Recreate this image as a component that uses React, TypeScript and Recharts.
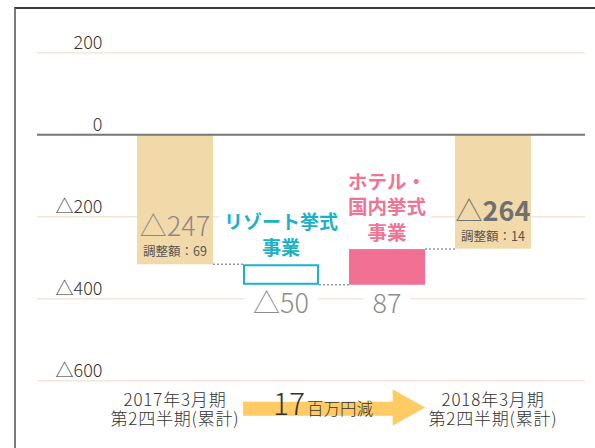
import React from 'react';
import { ComposedChart, Bar, XAxis, YAxis, CartesianGrid, ReferenceLine } from 'recharts';

// ---- data ----
const categories = ['2017年3月期|第2四半期(累計)', 'リゾート挙式|事業', 'ホテル・|国内挙式|事業', '2018年3月期|第2四半期(累計)'];
const kinds = ['total', 'change', 'change', 'total'];
const totals = [-247, null, null, -264];
const adjustments = [69, null, null, 14];
const changes = [null, -50, 87, null];
const yTicks = [200, 0, -200, -400, -600];
const differenceValue = 17;
const differenceUnit = '百万円減';
const adjustmentLabel = '調整額';

// ---- styles ----
const FONT = "'Noto Sans CJK JP', 'Noto Sans', sans-serif";
const barFills = ['#f2d9a9', '#ffffff', '#f07193', '#f2d9a9'];
const barStrokes = ['none', '#1ab3c8', 'none', 'none'];
const nameColors = ['#333', '#1bb2c7', '#ef7495', '#333'];
const nameSizes = [17, 19, 19.5, 17];
const emphasized = [false, false, false, true];
const BAR_GAP = 30;

const fmt = (v: number) => (v < 0 ? '△' + Math.abs(v) : String(v));

let level = 0;
const data = categories.map((name, i) => {
  let start = 0;
  let end = 0;
  let valueLabel = '';
  if (kinds[i] === 'total') {
    start = 0;
    end = (totals[i] as number) - (adjustments[i] as number);
    valueLabel = fmt(totals[i] as number);
  } else {
    start = level;
    end = level + (changes[i] as number);
    valueLabel = fmt(changes[i] as number);
  }
  level = end;
  return { name, range: [start, end], valueLabel, adjustment: adjustments[i], kind: kinds[i] };
});

const WaterfallShape = (props: any) => {
  const { x, y, width, height, payload, index } = props;
  const top = Math.min(y, y + height);
  const h = Math.abs(height);
  const bottom = top + h;
  const cx = x + width / 2;
  const [start, end] = payload.range;
  const endY = end < start ? bottom : top;
  const last = index === data.length - 1;
  const stroked = barStrokes[index] !== 'none';
  const lines: string[] = payload.name.split('|');
  const fs = nameSizes[index];
  const lh = 25.5;
  const els: any[] = [];

  els.push(
    <rect
      key="bar"
      x={stroked ? x + 1 : x}
      y={stroked ? top + 1 : top}
      width={stroked ? width - 2 : width}
      height={stroked ? h - 2 : h}
      fill={barFills[index]}
      stroke={barStrokes[index]}
      strokeWidth={stroked ? 2 : 0}
    />
  );
  if (!last) {
    els.push(
      <line key="conn" x1={x + width} x2={x + width + BAR_GAP} y1={endY} y2={endY} stroke="#9a9a9a" strokeWidth={1.5} strokeDasharray="2 2" />
    );
  }
  if (payload.kind === 'total') {
    const em = emphasized[index];
    els.push(
      <text key="val" x={cx} y={bottom - 28} textAnchor="middle" fontFamily={FONT} fontSize={27} fill={em ? '#707070' : '#8a8a8a'}>
        <tspan fontWeight={300}>△</tspan>
        <tspan fontWeight={em ? 700 : 300}>{payload.valueLabel.replace('△', '')}</tspan>
      </text>
    );
    els.push(
      <text key="adj" x={cx} y={bottom - 8} textAnchor="middle" fontFamily={FONT} fontSize={12.5} fill="#555">
        {adjustmentLabel + '：' + payload.adjustment}
      </text>
    );
  } else {
    const lastBase = top - 9.5;
    const firstBase = lastBase - (lines.length - 1) * lh;
    const maxLen = Math.max(...lines.map((l) => l.length));
    const bw = maxLen * fs + 10;
    els.push(<rect key="nbg" x={cx - bw / 2} y={firstBase - fs - 2} width={bw} height={lastBase - firstBase + fs + 7} fill="#fff" />);
    lines.forEach((l, k) => {
      els.push(
        <text key={'n' + k} x={cx} y={firstBase + k * lh} textAnchor="middle" fontFamily={FONT} fontSize={fs} fontWeight={700} fill={nameColors[index]}>
          {l}
        </text>
      );
    });
    const vs = 27;
    const label: string = payload.valueLabel;
    const tw = label.split('').reduce((s: number, c: string) => s + (c === '△' ? vs : vs * 0.56), 0);
    els.push(<rect key="vbg" x={cx - tw / 2 - 8} y={bottom + 6} width={tw + 16} height={28} fill="#fff" />);
    els.push(
      <text key="val" x={cx} y={bottom + 28} textAnchor="middle" fontFamily={FONT} fontSize={vs} fontWeight={300} fill="#8c8c8c">
        {label}
      </text>
    );
  }
  return <g>{els}</g>;
};

const YTick = (props: any) => {
  const { x, y, payload } = props;
  return (
    <text x={x + 65.5} y={y - 3.5} textAnchor="end" fontFamily={FONT} fontSize={18} fontWeight={300} fill="#333">
      {fmt(payload.value)}
    </text>
  );
};

const XTick = (props: any) => {
  const { x, y, payload, index } = props;
  if (kinds[index] !== 'total') return null;
  const lines: string[] = String(payload.value).split('|');
  return (
    <g>
      {lines.map((l, k) => (
        <text key={k} x={x} y={y + 25 + k * 19} textAnchor="middle" fontFamily={FONT} fontSize={17} letterSpacing={0.8} fontWeight={300} fill="#333">
          {l}
        </text>
      ))}
    </g>
  );
};

const DifferenceArrow = () => (
  <g>
    <polygon
      points="243,401.7 392.7,401.7 392.7,389.3 425,407.5 392.7,425.7 392.7,415.7 243,415.7"
      fill="#fecb64"
    />
    <text x={273} y={415} fontFamily={FONT} fill="#333" fontWeight={300}>
      <tspan fontSize={30}>{differenceValue}</tspan>
      <tspan fontSize={16.5} dx={2}>{differenceUnit}</tspan>
    </text>
  </g>
);

export default function App() {
  return (
    <div style={{ position: 'absolute', left: 0, top: 0, width: 595, height: 448, overflow: 'hidden', background: '#fff' }}>
      <div
        style={{
          position: 'absolute',
          left: 14,
          top: 7,
          width: 595,
          height: 448,
          borderLeft: '2px solid #7a7a7a',
          borderTop: '2px solid #3a3a3a',
        }}
      />
      <div style={{ position: 'absolute', left: 0, top: 0 }}>
        <ComposedChart width={595} height={448} data={data} margin={{ top: 52.7, right: 10, bottom: 0, left: 0 }}>
          <CartesianGrid vertical={false} stroke="#f1e8db" strokeWidth={1.5} />
          <XAxis
            dataKey="name"
            axisLine={false}
            tickLine={false}
            tickSize={0}
            tickMargin={0}
            height={67.3}
            interval={0}
            padding={{ left: 85, right: 39 }}
            tick={<XTick />}
          />
          <YAxis
            type="number"
            domain={[-600, 200]}
            ticks={yTicks}
            interval={0}
            width={37}
            axisLine={false}
            tickLine={false}
            tickSize={0}
            tickMargin={0}
            tick={<YTick />}
          />
          <Bar dataKey="range" barSize={76} shape={<WaterfallShape />} isAnimationActive={false} />
          <ReferenceLine y={0} stroke="#777" strokeWidth={2} />
          <DifferenceArrow />
        </ComposedChart>
      </div>
    </div>
  );
}
